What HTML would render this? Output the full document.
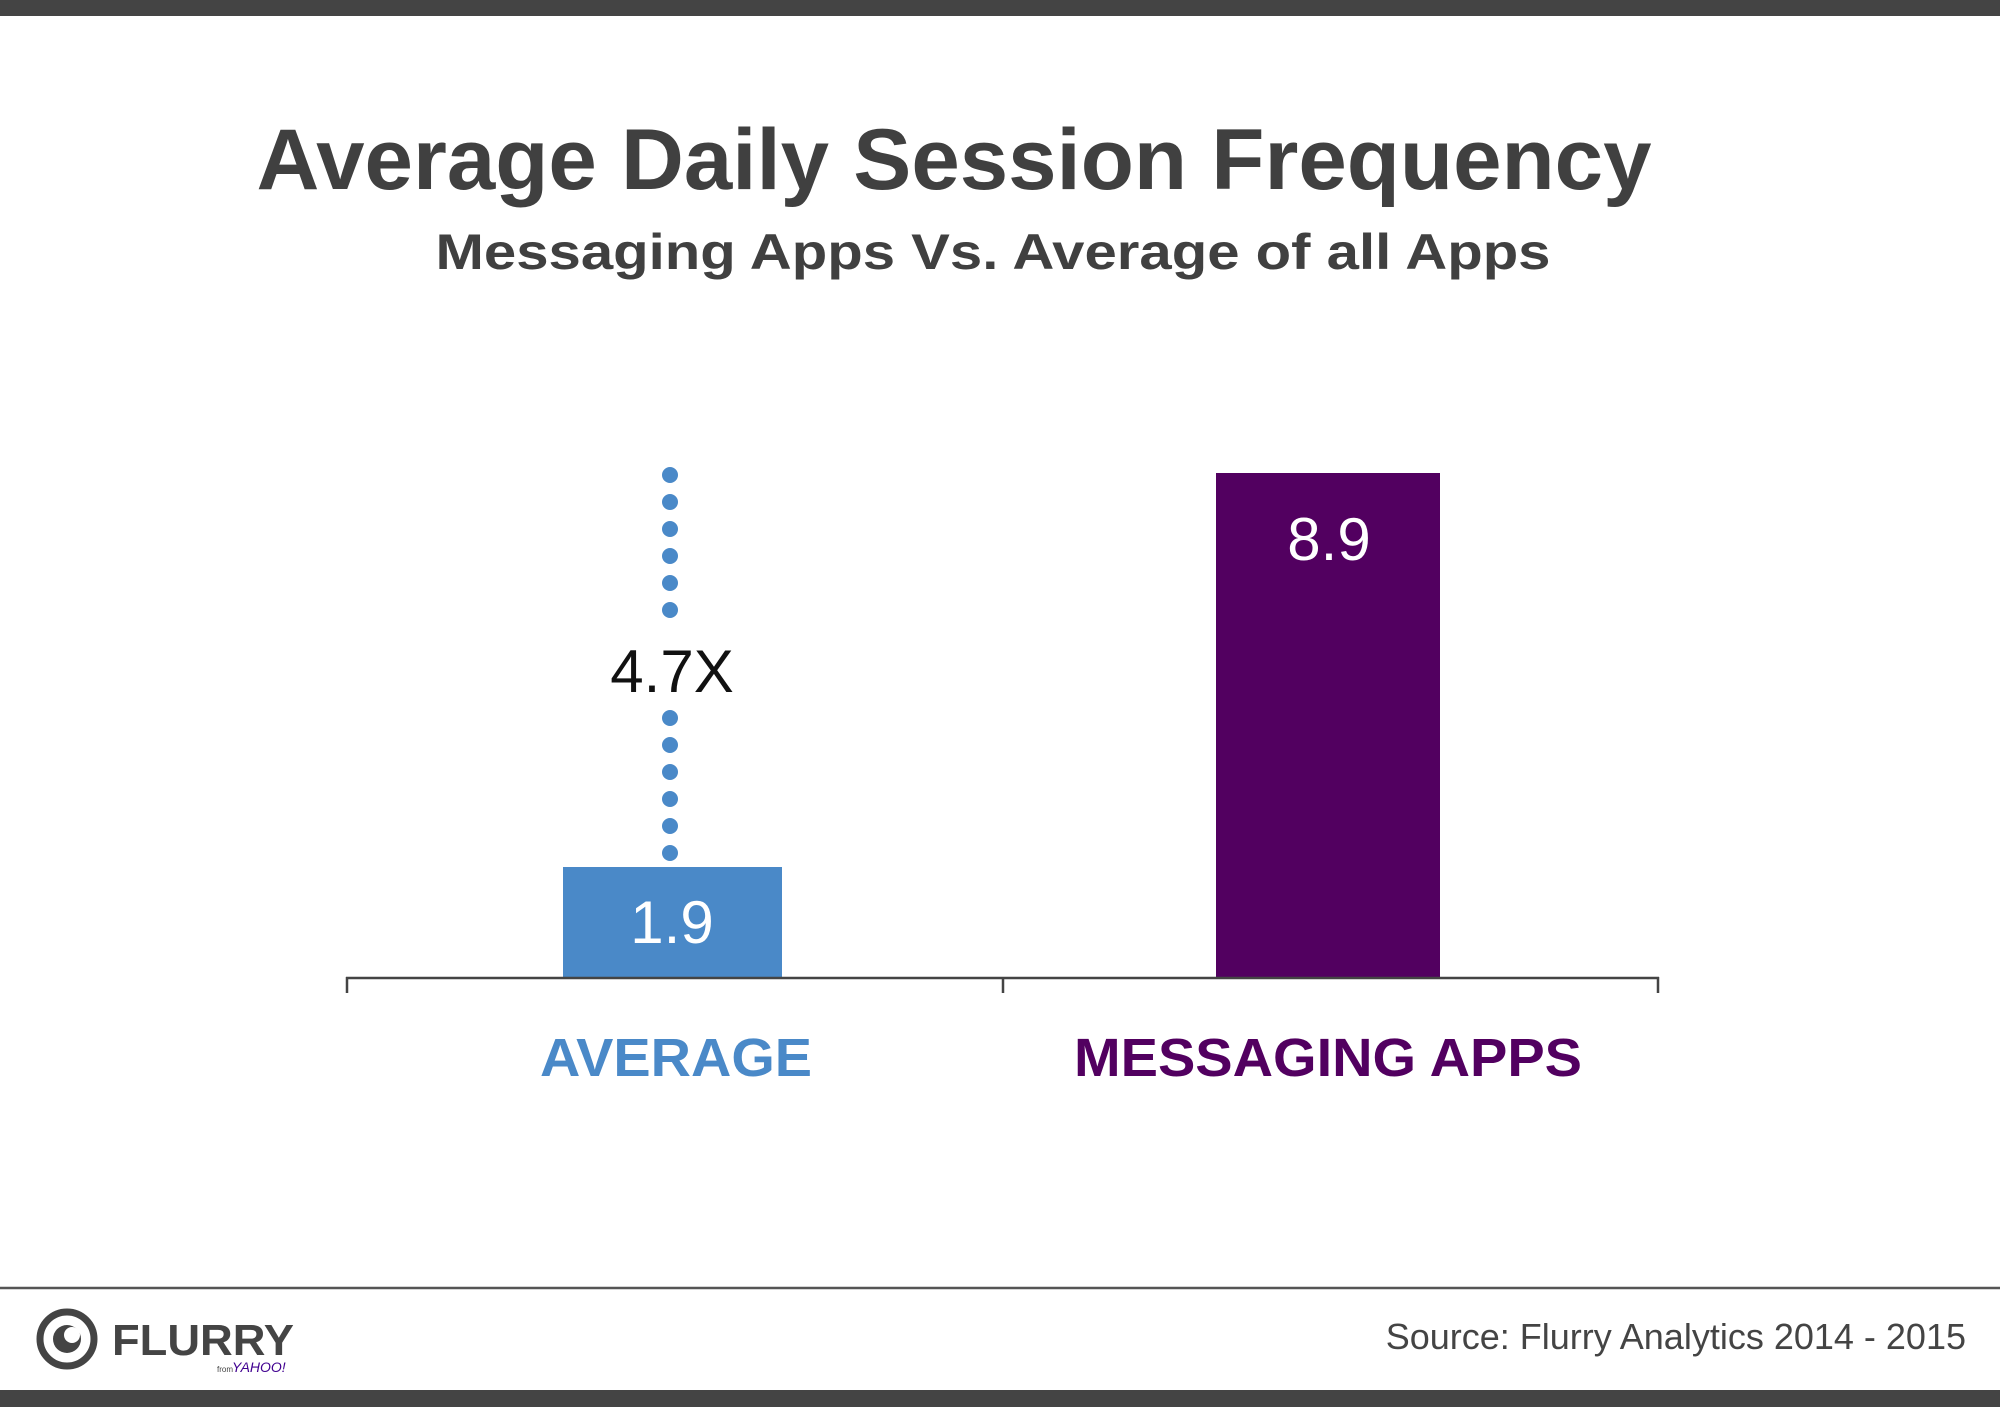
<!DOCTYPE html>
<html><head><meta charset="utf-8"><style>
html,body{margin:0;padding:0;background:#fff}
svg{display:block}
text{font-family:"Liberation Sans",Arial,sans-serif}
</style></head><body>
<svg width="2000" height="1407" viewBox="0 0 2000 1407" xmlns="http://www.w3.org/2000/svg">
<rect x="0" y="0" width="2000" height="16" fill="#444"/>
<rect x="0" y="1390" width="2000" height="17" fill="#444"/>
<text x="954" y="189" text-anchor="middle" font-size="86" font-weight="bold" fill="#404040" textLength="1395" lengthAdjust="spacingAndGlyphs">Average Daily Session Frequency</text>
<text x="993" y="269" text-anchor="middle" font-size="50" font-weight="bold" fill="#404040" textLength="1115" lengthAdjust="spacingAndGlyphs">Messaging Apps Vs. Average of all Apps</text>
<rect x="563" y="867" width="219" height="110" fill="#4a89c8"/>
<rect x="1216" y="473" width="224" height="504" fill="#520060"/>
<g fill="#4a89c8">
<circle cx="670" cy="475" r="8"/><circle cx="670" cy="502" r="8"/><circle cx="670" cy="529" r="8"/><circle cx="670" cy="556" r="8"/><circle cx="670" cy="583" r="8"/><circle cx="670" cy="610" r="8"/>
<circle cx="670" cy="718" r="8"/><circle cx="670" cy="745" r="8"/><circle cx="670" cy="772" r="8"/><circle cx="670" cy="799" r="8"/><circle cx="670" cy="826" r="8"/><circle cx="670" cy="853" r="8"/>
</g>
<text x="672" y="692" text-anchor="middle" font-size="60" fill="#111">4.7X</text>
<text x="672" y="943" text-anchor="middle" font-size="60" fill="#fff">1.9</text>
<text x="1329" y="560" text-anchor="middle" font-size="60" fill="#fff">8.9</text>
<g stroke="#444" stroke-width="2.5" fill="none">
<line x1="346" y1="978" x2="1659" y2="978"/>
<line x1="347" y1="977" x2="347" y2="993"/>
<line x1="1003" y1="977" x2="1003" y2="993"/>
<line x1="1658" y1="977" x2="1658" y2="993"/>
</g>
<text x="676" y="1076" text-anchor="middle" font-size="54" font-weight="bold" fill="#4a89c8" textLength="272" lengthAdjust="spacingAndGlyphs">AVERAGE</text>
<text x="1328" y="1076" text-anchor="middle" font-size="54" font-weight="bold" fill="#520060" textLength="508" lengthAdjust="spacingAndGlyphs">MESSAGING APPS</text>
<line x1="0" y1="1288" x2="2000" y2="1288" stroke="#555" stroke-width="2.5"/>
<circle cx="67" cy="1339" r="27" fill="none" stroke="#444" stroke-width="7"/>
<circle cx="67" cy="1339" r="14" fill="#444"/>
<circle cx="72" cy="1335" r="8" fill="#fff"/>
<text x="112" y="1355" font-size="44" font-weight="bold" fill="#444" textLength="182" lengthAdjust="spacingAndGlyphs">FLURRY</text>
<text x="217" y="1372" font-size="8" fill="#444">from</text>
<text x="232" y="1372" font-size="14" font-style="italic" fill="#400090">YAHOO!</text>
<text x="1966" y="1349" text-anchor="end" font-size="36" fill="#444">Source: Flurry Analytics 2014 - 2015</text>
</svg>
</body></html>
